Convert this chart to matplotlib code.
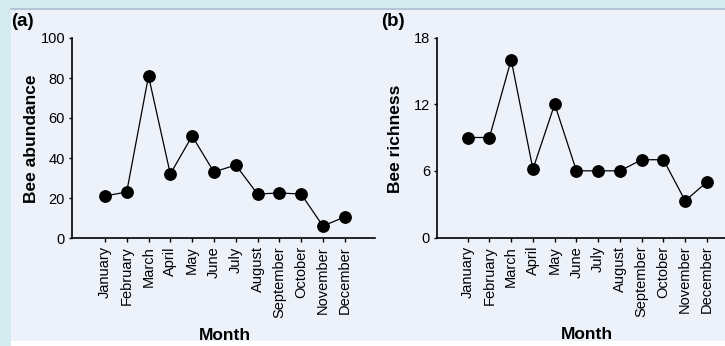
import matplotlib
matplotlib.use("Agg")
import matplotlib.pyplot as plt
from matplotlib.patches import Rectangle
from matplotlib.lines import Line2D

months = ["January", "February", "March", "April", "May", "June", "July",
          "August", "September", "October", "November", "December"]
abundance = [21, 23, 81, 32, 51, 33, 36.5, 22, 22.5, 22, 6, 10.5]
richness = [9, 9, 16, 6.15, 12, 6, 6, 6, 7, 7, 3.3, 5]
abund_ticks = [0, 20, 40, 60, 80, 100]
rich_ticks = [0, 6, 12, 18]

plt.rcParams['font.family'] = ['Liberation Sans', 'DejaVu Sans']

W, H = 725, 346
fig = plt.figure(figsize=(W / 100, H / 100), dpi=100)
bg = "#edf2fa"
fig.patch.set_facecolor(bg)

# frame decorations
fig.patches.append(Rectangle((0, 0), 11 / W, 1, transform=fig.transFigure,
                             facecolor="#d6ebf0", edgecolor="none", zorder=0))
fig.patches.append(Rectangle((0, 1 - 8 / H), 1, 8 / H, transform=fig.transFigure,
                             facecolor="#d6ebf0", edgecolor="none", zorder=0))
fig.patches.append(Rectangle((11 / W, 0), 1, 5 / H, transform=fig.transFigure,
                             facecolor="white", edgecolor="none", zorder=0))
fig.lines.append(Line2D([11 / W, 1], [1 - 8.5 / H, 1 - 8.5 / H], transform=fig.transFigure,
                        color="#a9bdd0", lw=1.2))


def panel(rect, values, yticks, ylim, xlim, ylabel, tag, tagx, ylabx):
    ax = fig.add_axes(rect)
    ax.set_facecolor("none")
    x = list(range(len(months)))
    ax.plot(x, values, color="black", lw=0.9, marker="o", ms=8.2,
            markerfacecolor="black", markeredgecolor="black", clip_on=False)
    ax.set_xlim(*xlim)
    ax.set_ylim(*ylim)
    ax.set_xticks(x)
    ax.set_xticklabels(months, rotation=90, fontsize=10.5)
    ax.set_yticks(yticks)
    ax.set_yticklabels([str(t) for t in yticks], fontsize=10.5)
    for s in ("top", "right"):
        ax.spines[s].set_visible(False)
    for s in ("left", "bottom"):
        ax.spines[s].set_linewidth(1.2)
    ax.tick_params(axis="x", length=3, width=1, pad=3, direction="out")
    ax.tick_params(axis="y", length=2, width=1, pad=3, direction="out")
    fig.text(ylabx / W, 1 - 139 / H, ylabel, rotation=90, ha="center", va="center",
             fontsize=12.5, fontweight="bold")
    # Month label centered over the tick range
    xc = (x[0] + x[-1]) / 2
    ax.text(xc, -0.485, "Month", transform=ax.get_xaxis_transform(),
            ha="center", va="center", fontsize=12.5, fontweight="bold")
    fig.text(tagx / W, 1 - 21 / H, tag, ha="left", va="center",
             fontsize=13.5, fontweight="bold")
    return ax


axA = panel([72 / W, (346 - 238) / H, (375 - 72) / W, 200 / H], abundance,
            abund_ticks, (0, 100), (-1.51, 12.39), "Bee abundance", "(a)", 11, 32)
axB = panel([437 / W, (346 - 237.5) / H, (725 - 437) / W, 200 / H], richness,
            rich_ticks, (0, 18), (-1.41, 11.83), "Bee richness", "(b)", 381, 396)

fig.savefig("out.png", dpi=100, facecolor=fig.get_facecolor())
